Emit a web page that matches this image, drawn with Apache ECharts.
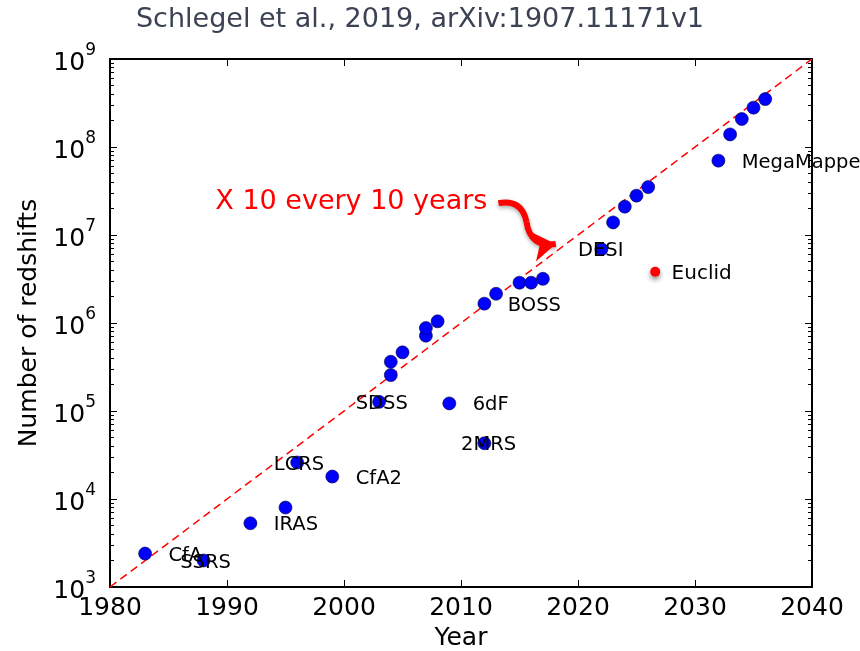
<!DOCTYPE html>
<html>
<head>
<meta charset="utf-8">
<script src="https://cdn.jsdelivr.net/npm/echarts@6/dist/echarts.min.js"></script>
<style>
  html, body { margin: 0; padding: 0; background: #fff; }
  #chart { width: 860px; height: 651px; }
</style>
</head>
<body>
<div id="chart"></div>
<script>
// Redshift survey sizes by year
const years = [1983, 1988, 1992, 1995, 1996, 1999, 2003, 2004, 2004, 2005, 2007, 2007, 2008, 2009,
  2012, 2012, 2013, 2015, 2016, 2017, 2022, 2023, 2024, 2025, 2026, 2032, 2033, 2034, 2035, 2036];
const redshifts = [2400, 2000, 5300, 8000, 26000, 18000, 127000, 256000, 363000, 464000, 718000, 877000, 1045000, 122000,
  43000, 1660000, 2150000, 2870000, 2870000, 3180000, 6900000, 13900000, 21000000, 28000000, 35000000,
  70000000, 139000000, 208000000, 280000000, 350000000];

// Survey names and where their text sits (year, count)
const surveyNames = ['CfA', 'SSRS', 'IRAS', 'LCRS', 'CfA2', 'SDSS', '6dF', '2MRS', 'BOSS', 'DESI', 'MegaMapper'];
const surveyLabelYears = [1985, 1986, 1994, 1994, 2001, 2001, 2011, 2010, 2014, 2020, 2034];
const surveyLabelCounts = [2400, 2000, 5300, 26000, 18000, 127000, 122000, 43000, 1660000, 6900000, 70000000];

// Euclid, highlighted separately
const euclidYear = 2026.6;
const euclidCount = 3830000;
const euclidLabelYear = 2028;

// "x10 every 10 years" trend line
const trendYears = [1980, 2040];
const trendCounts = [1e3, 1e9];

// Annotation text and curved arrow path (year, count)
const trendNote = 'X 10 every 10 years';
const trendNoteAt = [1989, 2.37e7];
const arrowPath = [[2013.2, 2.3e7], [2015.6, 1.41e7], [2018.1, 7.9e6]];

// Axis ticks
const yMajor = [1e3, 1e4, 1e5, 1e6, 1e7, 1e8, 1e9];
const yMinor = [];
for (let d = 3; d < 9; d++) for (let m = 2; m <= 9; m++) yMinor.push(m * Math.pow(10, d));

const FONT = 'DejaVu Sans';
const chart = echarts.init(document.getElementById('chart'), null, { renderer: 'canvas' });

const frameLine = { show: true, lineStyle: { color: '#000', width: 2 } };
const majorTick = { show: true, inside: true, length: 7, lineStyle: { color: '#000', width: 1 } };
const minorTickStyle = { show: true, inside: true, length: 4, customValues: yMinor, lineStyle: { color: '#000', width: 1 } };

function xAxisDef(pos, labels) {
  return {
    type: 'value', position: pos, min: 1980, max: 2040, interval: 10,
    axisLine: frameLine,
    axisTick: majorTick,
    splitLine: { show: false },
    axisLabel: labels ? {
      show: true, margin: 9, color: '#000', fontFamily: FONT, fontSize: 25,
      formatter: v => String(v)
    } : { show: false },
    name: labels ? 'Year' : '',
    nameLocation: 'middle', nameGap: 38,
    nameTextStyle: { color: '#000', fontFamily: FONT, fontSize: 25 }
  };
}

function yAxisDef(pos, labels, minor) {
  return {
    type: 'log', logBase: 10, position: pos, min: 1e3, max: 1e9,
    axisLine: minor ? { show: false } : frameLine,
    axisTick: minor ? minorTickStyle : Object.assign({}, majorTick, { customValues: yMajor }),
    splitLine: { show: false },
    minorTick: { show: false },
    axisLabel: labels ? {
      show: true, margin: 14, color: '#000', fontFamily: FONT,
      customValues: yMajor,
      formatter: v => '{b|10}{s|' + Math.round(Math.log10(v)) + '}',
      rich: {
        b: { fontSize: 25, fontFamily: FONT, color: '#000', lineHeight: 24, verticalAlign: 'bottom' },
        s: { fontSize: 17, fontFamily: FONT, color: '#000', lineHeight: 34, verticalAlign: 'top' }
      }
    } : { show: false },
    name: labels ? 'Number of redshifts' : '',
    nameLocation: 'middle', nameGap: 66, nameRotate: 90,
    nameTextStyle: { color: '#000', fontFamily: FONT, fontSize: 25 }
  };
}

const surveyLabelData = surveyNames.map((n, i) => ({ value: [surveyLabelYears[i], surveyLabelCounts[i]], name: n }));

const labelStyle = {
  show: true, position: 'right', distance: 0, offset: [0, 2], color: '#000', opacity: 1,
  fontFamily: FONT, fontSize: 19.5, formatter: p => p.name
};

const option = {
  backgroundColor: '#fff',
  animation: false,
  grid: { left: 110, right: 48, top: 59, bottom: 64, containLabel: false, outerBoundsMode: 'none' },
  graphic: [{
    type: 'text', x: 420, y: 20,
    style: {
      text: 'Schlegel et al., 2019, arXiv:1907.11171v1',
      fontFamily: FONT, fontSize: 27, fill: '#3b4254',
      textAlign: 'center', textVerticalAlign: 'middle'
    }
  }],
  xAxis: [xAxisDef('bottom', true), xAxisDef('top', false)],
  yAxis: [yAxisDef('left', true, false), yAxisDef('right', false, false),
          yAxisDef('left', false, true), yAxisDef('right', false, true)],
  series: [
    {
      type: 'line', name: 'trend', data: trendYears.map((y, i) => [y, trendCounts[i]]),
      symbol: 'none', silent: true,
      lineStyle: { color: '#ff0000', width: 1.5, type: [8, 5] }, z: 2
    },
    {
      type: 'scatter', name: 'surveys', data: years.map((y, i) => [y, redshifts[i]]),
      symbol: 'circle', symbolSize: 13,
      itemStyle: { color: '#0000ff', borderColor: '#00003a', borderWidth: 0.6, opacity: 1 }, z: 3
    },
    {
      type: 'scatter', name: 'Euclid', data: [[euclidYear, euclidCount]],
      symbol: 'circle', symbolSize: 10,
      itemStyle: { color: '#ff0000', opacity: 1, shadowBlur: 5, shadowColor: 'rgba(0,0,0,0.45)', shadowOffsetY: 3 }, z: 3
    },
    {
      type: 'scatter', name: 'survey names', data: surveyLabelData,
      symbolSize: 0, silent: true, itemStyle: { opacity: 1 }, label: labelStyle, z: 5
    },
    {
      type: 'scatter', name: 'Euclid name', data: [{ value: [euclidLabelYear, euclidCount], name: 'Euclid' }],
      symbolSize: 0, silent: true, itemStyle: { opacity: 1 },
      label: Object.assign({}, labelStyle, { fontSize: 20 }), z: 5
    },
    {
      type: 'scatter', name: 'note', data: [{ value: trendNoteAt, name: trendNote }],
      symbolSize: 0, silent: true, itemStyle: { opacity: 1 },
      label: { show: true, position: 'right', distance: 0, color: '#ff0000', opacity: 1,
        fontFamily: FONT, fontSize: 27, formatter: p => p.name },
      z: 5
    },
    {
      type: 'lines', coordinateSystem: 'cartesian2d', silent: true,
      data: [{ coords: [arrowPath[0], arrowPath[1]] }],
      symbol: 'none',
      lineStyle: { color: '#ff0000', width: 6, curveness: 0.5, opacity: 1,
        shadowBlur: 4, shadowColor: 'rgba(0,0,0,0.35)', shadowOffsetY: 2 }, z: 4
    },
    {
      type: 'lines', coordinateSystem: 'cartesian2d', silent: true,
      data: [{ coords: [arrowPath[1], arrowPath[2]] }],
      symbol: ['none', 'arrow'], symbolSize: 22,
      lineStyle: { color: '#ff0000', width: 6, curveness: -0.5, opacity: 1,
        shadowBlur: 4, shadowColor: 'rgba(0,0,0,0.35)', shadowOffsetY: 2 }, z: 4
    }
  ]
};

chart.setOption(option);
</script>
</body>
</html>
